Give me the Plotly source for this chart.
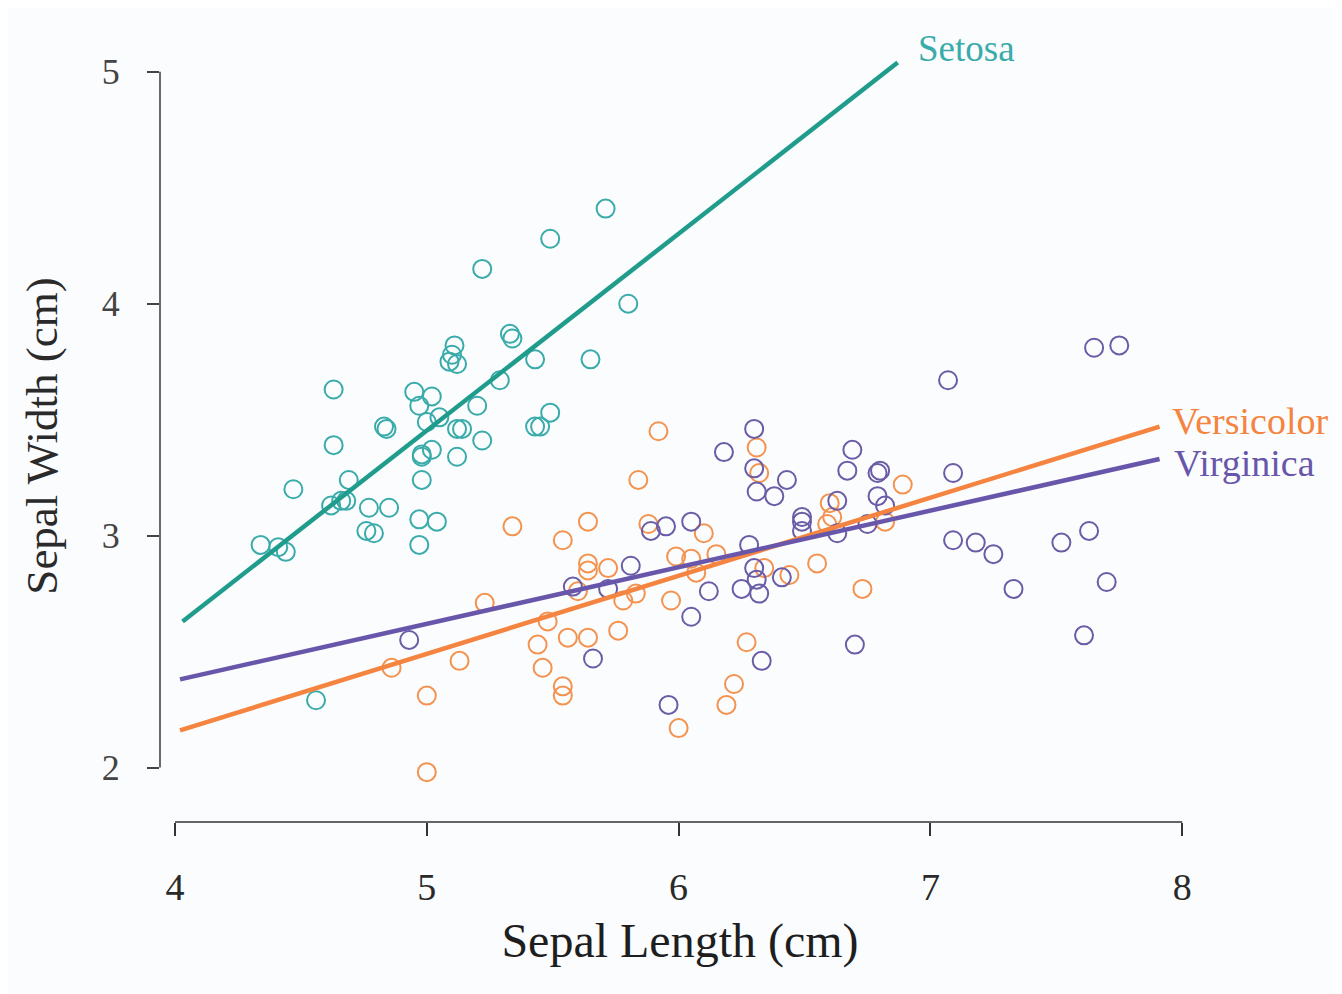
import plotly.graph_objects as go

# ---- data ----
setosa_x = [4.34, 4.41, 4.44, 4.47, 4.56, 4.63, 4.63, 4.62, 4.66, 4.68, 4.69, 4.77, 4.76, 4.79,
            4.83, 4.84, 4.85, 4.95, 4.97, 4.97, 4.97, 4.98, 4.98, 4.98, 5.00, 5.02, 5.02, 5.04,
            5.05, 5.09, 5.10, 5.11, 5.12, 5.12, 5.14, 5.12, 5.20, 5.22, 5.22, 5.29, 5.33, 5.34,
            5.43, 5.45, 5.43, 5.49, 5.49, 5.65, 5.71, 5.80]
setosa_y = [2.96, 2.95, 2.93, 3.20, 2.29, 3.63, 3.39, 3.13, 3.15, 3.15, 3.24, 3.12, 3.02, 3.01,
            3.47, 3.46, 3.12, 3.62, 3.07, 2.96, 3.56, 3.24, 3.34, 3.35, 3.49, 3.37, 3.60, 3.06,
            3.51, 3.75, 3.78, 3.82, 3.74, 3.46, 3.46, 3.34, 3.56, 3.41, 4.15, 3.67, 3.87, 3.85,
            3.47, 3.47, 3.76, 3.53, 4.28, 3.76, 4.41, 4.00]

versicolor_x = [5.00, 5.00, 4.86, 5.13, 5.23, 5.34, 5.46, 5.44, 5.48, 5.54, 5.54, 5.54, 5.56,
                5.64, 5.64, 5.64, 5.64, 5.72, 5.76, 5.83, 5.78, 5.84, 5.88, 5.92, 5.97, 5.99,
                6.00, 6.07, 6.10, 6.15, 6.19, 6.22, 6.27, 6.31, 6.32, 6.34, 6.44, 6.55, 6.60,
                6.61, 6.59, 6.73, 6.82, 6.89, 6.05, 5.60]
versicolor_y = [1.98, 2.31, 2.43, 2.46, 2.71, 3.04, 2.43, 2.53, 2.63, 2.35, 2.31, 2.98, 2.56,
                2.56, 3.06, 2.88, 2.85, 2.86, 2.59, 2.75, 2.72, 3.24, 3.05, 3.45, 2.72, 2.91,
                2.17, 2.84, 3.01, 2.92, 2.27, 2.36, 2.54, 3.38, 3.27, 2.86, 2.83, 2.88, 3.14,
                3.08, 3.05, 2.77, 3.06, 3.22, 2.90, 2.76]

virginica_x = [4.93, 5.58, 5.66, 5.72, 5.81, 5.89, 5.95, 6.05, 6.18, 6.12, 6.05, 5.96, 6.30,
               6.30, 6.31, 6.38, 6.43, 6.28, 6.30, 6.31, 6.25, 6.32, 6.41, 6.33, 6.49, 6.49,
               6.49, 6.63, 6.63, 6.69, 6.67, 6.79, 6.80, 6.79, 6.82, 6.75, 6.70, 7.07, 7.09,
               7.09, 7.18, 7.25, 7.33, 7.52, 7.63, 7.70, 7.61, 7.65, 7.75]
virginica_y = [2.55, 2.78, 2.47, 2.77, 2.87, 3.02, 3.04, 3.06, 3.36, 2.76, 2.65, 2.27, 3.46,
               3.29, 3.19, 3.17, 3.24, 2.96, 2.86, 2.81, 2.77, 2.75, 2.82, 2.46, 3.08, 3.06,
               3.02, 3.15, 3.01, 3.37, 3.28, 3.27, 3.28, 3.17, 3.13, 3.05, 2.53, 3.67, 3.27,
               2.98, 2.97, 2.92, 2.77, 2.97, 3.02, 2.80, 2.57, 3.81, 3.82]

# fitted lines (end points)
setosa_fit_x = [4.03, 6.87]
setosa_fit_y = [2.63, 5.04]
versicolor_fit_x = [4.02, 7.91]
versicolor_fit_y = [2.16, 3.47]
virginica_fit_x = [4.02, 7.91]
virginica_fit_y = [2.38, 3.33]

x_ticks = [4, 5, 6, 7, 8]
y_ticks = [2, 3, 4, 5]

# ---- styles ----
C_SET_PT, C_SET_LN = "#3aabab", "#1f9c8c"
C_VER_PT, C_VER_LN = "#f3934f", "#f4843f"
C_VIR_PT, C_VIR_LN = "#6a5ca6", "#6856ab"
SERIF = "Liberation Serif, DejaVu Serif, serif"

fig = go.Figure()

def pts(x, y, c, name):
    fig.add_trace(go.Scatter(x=x, y=y, mode="markers", name=name,
                             marker=dict(symbol="circle-open", size=18,
                                         line=dict(width=2, color=c), color=c)))

def fit(x, y, c, name):
    fig.add_trace(go.Scatter(x=x, y=y, mode="lines", name=name,
                             line=dict(color=c, width=4.5)))

pts(setosa_x, setosa_y, C_SET_PT, "Setosa")
pts(versicolor_x, versicolor_y, C_VER_PT, "Versicolor")
pts(virginica_x, virginica_y, C_VIR_PT, "Virginica")
fit(setosa_fit_x, setosa_fit_y, C_SET_LN, "Setosa fit")
fit(versicolor_fit_x, versicolor_fit_y, C_VER_LN, "Versicolor fit")
fit(virginica_fit_x, virginica_fit_y, C_VIR_LN, "Virginica fit")

# labels at ends of lines
fig.add_annotation(x=setosa_fit_x[1], y=setosa_fit_y[1], text="Setosa", showarrow=False,
                   xanchor="left", yanchor="bottom", xshift=18, yshift=-8,
                   font=dict(family=SERIF, size=37, color=C_SET_PT))
fig.add_annotation(x=versicolor_fit_x[1], y=versicolor_fit_y[1], text="Versicolor", showarrow=False,
                   xanchor="left", yanchor="middle", xshift=10, yshift=6,
                   font=dict(family=SERIF, size=38, color=C_VER_LN))
fig.add_annotation(x=virginica_fit_x[1], y=virginica_fit_y[1], text="Virginica", showarrow=False,
                   xanchor="left", yanchor="middle", xshift=12, yshift=-4,
                   font=dict(family=SERIF, size=38, color=C_VIR_LN))

# detached axis lines (R style)
fig.add_shape(type="line", xref="x", yref="paper", x0=x_ticks[0], x1=x_ticks[-1], y0=0, y1=0,
              line=dict(color="#333333", width=1.6))
fig.add_shape(type="line", xref="paper", yref="y", x0=0, x1=0, y0=y_ticks[0], y1=y_ticks[-1],
              line=dict(color="#444444", width=1.6))

fig.update_layout(
    width=1342, height=994,
    margin=dict(l=152, r=150, t=42, b=180),
    paper_bgcolor="#fbfcfd", plot_bgcolor="#fbfcfd",
    showlegend=False,
    xaxis=dict(range=[3.9404, 8.0706], tickvals=x_ticks, ticks="outside", ticklen=13,
               tickwidth=1.6, tickcolor="#333333", showgrid=False, zeroline=False,
               showline=False, ticklabelstandoff=18,
               tickfont=dict(family=SERIF, size=38, color="#2a2a2a"),
               title=dict(text="Sepal Length (cm)", standoff=16,
                          font=dict(family=SERIF, size=48, color="#1e1e1e"))),
    yaxis=dict(range=[1.765, 5.094], tickvals=y_ticks, ticks="outside", ticklen=12,
               tickwidth=1.6, tickcolor="#444444", showgrid=False, zeroline=False,
               showline=False, ticklabelstandoff=20,
               tickfont=dict(family=SERIF, size=36, color="#444444"),
               title=dict(text="Sepal Width (cm)", standoff=30,
                          font=dict(family=SERIF, size=45, color="#2a2a2a"))),
)

fig.write_html("out.html")
